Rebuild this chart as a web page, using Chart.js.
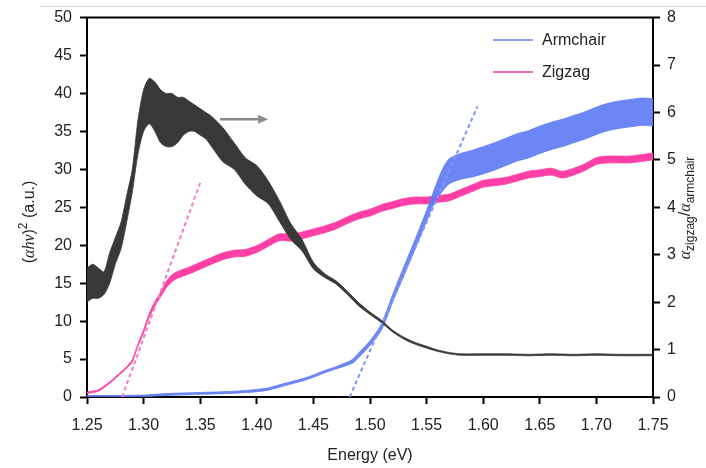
<!DOCTYPE html>
<html lang="en">
<head>
<meta charset="UTF-8">
<title>Absorption anisotropy</title>
<script src="https://cdn.jsdelivr.net/npm/chart.js"></script>
<style>
    html, body { margin: 0; padding: 0; background: #fff; }
    #wrap { width: 706px; height: 468px; position: relative; }
</style>
</head>
<body>
<div id="wrap"><canvas id="grafico"></canvas></div>

<script>
    // photon energy grids (eV)
    const energiaRazao = [1.25, 1.255, 1.26, 1.265, 1.27, 1.275, 1.28, 1.285, 1.29, 1.295, 1.30, 1.305, 1.31, 1.315, 1.32, 1.325, 1.33, 1.335, 1.34, 1.345, 1.35, 1.355, 1.36, 1.37, 1.38, 1.39, 1.40, 1.41, 1.42, 1.43, 1.44, 1.45, 1.46, 1.47, 1.48, 1.49, 1.50, 1.51, 1.52, 1.53, 1.54, 1.55, 1.56, 1.57, 1.58, 1.60, 1.62, 1.64, 1.66, 1.68, 1.70, 1.72, 1.75];
    // alpha_zigzag / alpha_armchair, lower and upper edge of the noisy trace
    const razaoMin = [2.00, 2.08, 2.08, 2.16, 2.40, 2.80, 3.12, 3.68, 4.32, 5.12, 5.60, 5.76, 5.60, 5.36, 5.28, 5.28, 5.36, 5.52, 5.60, 5.60, 5.52, 5.44, 5.28, 4.96, 4.80, 4.48, 4.24, 4.08, 3.70, 3.32, 3.08, 2.70, 2.52, 2.38, 2.16, 1.92, 1.74, 1.57, 1.37, 1.22, 1.11, 1.03, 0.96, 0.91, 0.88, 0.88, 0.88, 0.87, 0.88, 0.87, 0.88, 0.87, 0.87];
    const razaoMax = [2.72, 2.80, 2.72, 2.64, 3.04, 3.36, 3.68, 4.24, 4.80, 5.84, 6.48, 6.72, 6.64, 6.48, 6.40, 6.40, 6.32, 6.32, 6.24, 6.16, 6.08, 6.00, 5.92, 5.68, 5.36, 5.04, 4.88, 4.56, 4.14, 3.66, 3.32, 2.84, 2.60, 2.45, 2.23, 1.99, 1.79, 1.62, 1.41, 1.26, 1.15, 1.07, 0.99, 0.94, 0.91, 0.91, 0.91, 0.90, 0.91, 0.90, 0.91, 0.90, 0.90];

    const energiaZigzag = [1.25, 1.26, 1.27, 1.28, 1.285, 1.29, 1.295, 1.30, 1.305, 1.31, 1.315, 1.32, 1.325, 1.33, 1.34, 1.35, 1.36, 1.37, 1.38, 1.39, 1.40, 1.41, 1.42, 1.43, 1.44, 1.45, 1.46, 1.47, 1.48, 1.49, 1.50, 1.51, 1.52, 1.53, 1.54, 1.55, 1.56, 1.57, 1.58, 1.59, 1.60, 1.61, 1.62, 1.63, 1.64, 1.65, 1.66, 1.67, 1.68, 1.69, 1.70, 1.71, 1.72, 1.73, 1.74, 1.75];
    const zigzagMin = [0.45, 0.75, 1.8, 3.1, 3.8, 4.6, 6.7, 8.45, 10.5, 12.0, 13.2, 14.4, 15.2, 15.65, 16.2, 16.85, 17.5, 18.1, 18.45, 18.55, 19.05, 19.85, 20.6, 20.55, 20.85, 21.25, 21.65, 22.15, 22.85, 23.45, 23.85, 24.45, 24.85, 25.25, 25.45, 25.45, 25.65, 25.85, 26.45, 27.05, 27.65, 27.85, 28.05, 28.45, 28.85, 29.05, 29.25, 28.85, 29.25, 29.85, 30.65, 30.85, 30.85, 30.85, 31.05, 31.25];
    const zigzagMax = [0.65, 0.95, 2.0, 3.3, 4.0, 4.9, 7.0, 8.85, 11.0, 12.6, 13.8, 15.2, 16.1, 16.55, 17.1, 17.75, 18.4, 19.0, 19.35, 19.45, 19.95, 20.75, 21.5, 21.45, 21.75, 22.15, 22.55, 23.05, 23.75, 24.35, 24.75, 25.35, 25.75, 26.15, 26.35, 26.35, 26.55, 26.75, 27.35, 27.95, 28.55, 28.75, 28.95, 29.35, 29.75, 29.95, 30.15, 29.75, 30.15, 30.75, 31.55, 31.75, 31.75, 31.75, 31.95, 32.15];

    const energiaArmchair = [1.25, 1.30, 1.32, 1.35, 1.38, 1.40, 1.41, 1.42, 1.43, 1.44, 1.45, 1.46, 1.47, 1.48, 1.485, 1.49, 1.50, 1.51, 1.52, 1.53, 1.54, 1.55, 1.555, 1.56, 1.565, 1.57, 1.58, 1.59, 1.60, 1.61, 1.62, 1.63, 1.64, 1.65, 1.66, 1.67, 1.68, 1.69, 1.70, 1.71, 1.72, 1.73, 1.74, 1.75];
    const armchairMin = [0.0, 0.05, 0.2, 0.35, 0.5, 0.7, 0.9, 1.3, 1.7, 2.1, 2.6, 3.2, 3.7, 4.2, 4.5, 5.2, 6.8, 8.8, 12.5, 16.0, 19.6, 23.2, 25.0, 26.3, 27.3, 28.1, 28.7, 29.0, 29.4, 29.9, 30.5, 31.1, 31.5, 32.1, 32.6, 33.0, 33.5, 34.0, 34.6, 35.1, 35.4, 35.6, 35.8, 35.7];
    const armchairMax = [0.2, 0.25, 0.45, 0.6, 0.75, 1.0, 1.2, 1.6, 2.0, 2.4, 2.9, 3.5, 4.0, 4.6, 5.0, 5.8, 7.4, 9.6, 13.5, 17.2, 20.8, 24.6, 26.6, 28.6, 30.3, 31.4, 32.1, 32.5, 33.0, 33.5, 34.1, 34.7, 35.1, 35.7, 36.2, 36.6, 37.1, 37.6, 38.2, 38.7, 39.0, 39.2, 39.4, 39.3];

    // linear fits of the absorption edges (end points)
    const ajusteZigzag = [[1.281, 0], [1.350, 28.2]];
    const ajusteArmchair = [[1.482, 0], [1.595, 38.3]];

    // arrow telling which axis the ratio belongs to
    const seta = { x0: 1.3675, x1: 1.41, y: 36.6 };

    const corPreto = '#383838';
    const corRosa = '#ff3fa6';
    const corAzul = '#5c7af4';

    function pontos(xs, ys) {
        return xs.map(function (x, i) { return { x: x, y: ys[i] }; });
    }

    function faixa(xs, lo, hi, cor, fundo, eixo, ordem) {
        return [
            { data: pontos(xs, lo), borderColor: cor, borderWidth: 0.8, tension: 0.25, pointRadius: 0, yAxisID: eixo, order: ordem, fill: false },
            { data: pontos(xs, hi), borderColor: cor, borderWidth: 0.8, tension: 0.25, pointRadius: 0, yAxisID: eixo, order: ordem, fill: '-1', backgroundColor: fundo }
        ];
    }

    function tracejado(par, cor) {
        return {
            data: par.map(function (p) { return { x: p[0], y: p[1] }; }),
            borderColor: cor, borderWidth: 2, borderDash: [4, 3], pointRadius: 0,
            yAxisID: 'y', order: 0, fill: false
        };
    }

    const datasets = []
        .concat(faixa(energiaZigzag, zigzagMin, zigzagMax, corRosa, corRosa, 'y', 3))
        .concat(faixa(energiaArmchair, armchairMin, armchairMax, corAzul, 'rgba(92,122,244,0.9)', 'y', 2))
        .concat(faixa(energiaRazao, razaoMin, razaoMax, corPreto, corPreto, 'y2', 1))
        .concat([tracejado(ajusteZigzag, '#f57cc6'), tracejado(ajusteArmchair, '#7e96f4')]);

    // legend, arrow, frame and rotated axis titles
    const extras = {
        id: 'extras',
        beforeDraw(chart) {
            const ctx = chart.ctx;
            ctx.save();
            ctx.strokeStyle = '#d4d4d4';
            ctx.lineWidth = 1;
            ctx.beginPath();
            ctx.moveTo(40, 6.5);
            ctx.lineTo(706, 6.5);
            ctx.stroke();
            ctx.restore();
        },
        afterDraw(chart) {
            const ctx = chart.ctx;
            const a = chart.chartArea;
            const sx = chart.scales.x, sy = chart.scales.y;
            ctx.save();

            // top frame line
            ctx.strokeStyle = '#000';
            ctx.lineWidth = 2;
            ctx.beginPath();
            ctx.moveTo(a.left - 1, a.top);
            ctx.lineTo(a.right + 1, a.top);
            ctx.stroke();

            // arrow
            const ax0 = sx.getPixelForValue(seta.x0), ax1 = sx.getPixelForValue(seta.x1);
            const ay = sy.getPixelForValue(seta.y);
            ctx.strokeStyle = '#8a8a8a';
            ctx.fillStyle = '#8a8a8a';
            ctx.lineWidth = 2.5;
            ctx.beginPath();
            ctx.moveTo(ax0, ay);
            ctx.lineTo(ax1 - 8, ay);
            ctx.stroke();
            ctx.beginPath();
            ctx.moveTo(ax1, ay);
            ctx.lineTo(ax1 - 10, ay - 4.5);
            ctx.lineTo(ax1 - 10, ay + 4.5);
            ctx.closePath();
            ctx.fill();

            // legend
            ctx.font = '16px "Liberation Sans", Arial, sans-serif';
            ctx.textBaseline = 'middle';
            ctx.textAlign = 'left';
            const itens = [['Armchair', '#8c9ef2', 40], ['Zigzag', '#f06cb6', 72]];
            itens.forEach(function (it) {
                ctx.strokeStyle = it[1];
                ctx.lineWidth = 2;
                ctx.beginPath();
                ctx.moveTo(493, it[2]);
                ctx.lineTo(533, it[2]);
                ctx.stroke();
                ctx.fillStyle = '#222';
                ctx.fillText(it[0], 542, it[2] + 1);
            });

            // left title: (αhν)² (a.u.)
            const partesEsq = [
                ['(', '16px "Liberation Sans", Arial, sans-serif', 0],
                ['αhν', 'italic 16px "Liberation Serif", "Times New Roman", serif', 0],
                [')', '16px "Liberation Sans", Arial, sans-serif', 0],
                ['2', '12px "Liberation Sans", Arial, sans-serif', -7],
                [' (a.u.)', '16px "Liberation Sans", Arial, sans-serif', 0]
            ];
            desenhaVertical(ctx, partesEsq, 34, 222);

            // right title: α_zigzag/α_armchair
            const partesDir = [
                ['α', 'italic 16px "Liberation Serif", "Times New Roman", serif', 0],
                ['zigzag', '12px "Liberation Sans", Arial, sans-serif', 4],
                ['/', '16px "Liberation Sans", Arial, sans-serif', 0],
                ['α', 'italic 16px "Liberation Serif", "Times New Roman", serif', 0],
                ['armchair', '12px "Liberation Sans", Arial, sans-serif', 4]
            ];
            desenhaVertical(ctx, partesDir, 690, 208);

            ctx.restore();
        }
    };

    // text read bottom-to-top, centred on cy, baseline at x = bx
    function desenhaVertical(ctx, partes, bx, cy) {
        let total = 0;
        partes.forEach(function (p) { ctx.font = p[1]; total += ctx.measureText(p[0]).width; });
        ctx.save();
        ctx.translate(bx, cy);
        ctx.rotate(-Math.PI / 2);
        ctx.fillStyle = '#222';
        ctx.textBaseline = 'alphabetic';
        ctx.textAlign = 'left';
        let x = -total / 2;
        partes.forEach(function (p) {
            ctx.font = p[1];
            ctx.fillText(p[0], x, p[2]);
            x += ctx.measureText(p[0]).width;
        });
        ctx.restore();
    }

    const fonteTicks = { family: '"Liberation Sans", Arial, sans-serif', size: 16 };

    const config = {
        type: 'line',
        data: { datasets: datasets },
        options: {
            responsive: false,
            animation: false,
            events: [],
            layout: { padding: { top: 16, left: 0, right: 0, bottom: 0 } },
            plugins: { legend: { display: false }, tooltip: { enabled: false } },
            scales: {
                x: {
                    type: 'linear', min: 1.25, max: 1.75,
                    ticks: {
                        stepSize: 0.05, autoSkip: false, maxRotation: 0, padding: 12,
                        color: '#222', font: fonteTicks,
                        callback: function (v) { return v.toFixed(2); }
                    },
                    grid: { drawOnChartArea: false, tickLength: 7, tickColor: '#000', tickWidth: 2 },
                    border: { color: '#000', width: 2 },
                    title: { display: true, text: 'Energy (eV)', color: '#222', font: fonteTicks, padding: { top: 0, bottom: 3 } },
                    afterFit: function (s) { s.height = 71; }
                },
                y: {
                    position: 'left', min: 0, max: 50,
                    ticks: { stepSize: 5, padding: 8, color: '#222', font: fonteTicks },
                    grid: { drawOnChartArea: false, tickLength: 7, tickColor: '#000', tickWidth: 2 },
                    border: { color: '#000', width: 2 },
                    afterFit: function (s) { s.width = 87; }
                },
                y2: {
                    position: 'right', min: 0, max: 8,
                    ticks: { stepSize: 1, padding: 7, color: '#222', font: fonteTicks },
                    grid: { drawOnChartArea: false, tickLength: 7, tickColor: '#000', tickWidth: 2 },
                    border: { color: '#000', width: 2 },
                    afterFit: function (s) { s.width = 53; }
                }
            }
        },
        plugins: [extras]
    };

    const canvas = document.getElementById('grafico');
    canvas.width = 706;
    canvas.height = 468;
    new Chart(canvas, config);
</script>
</body>
</html>
